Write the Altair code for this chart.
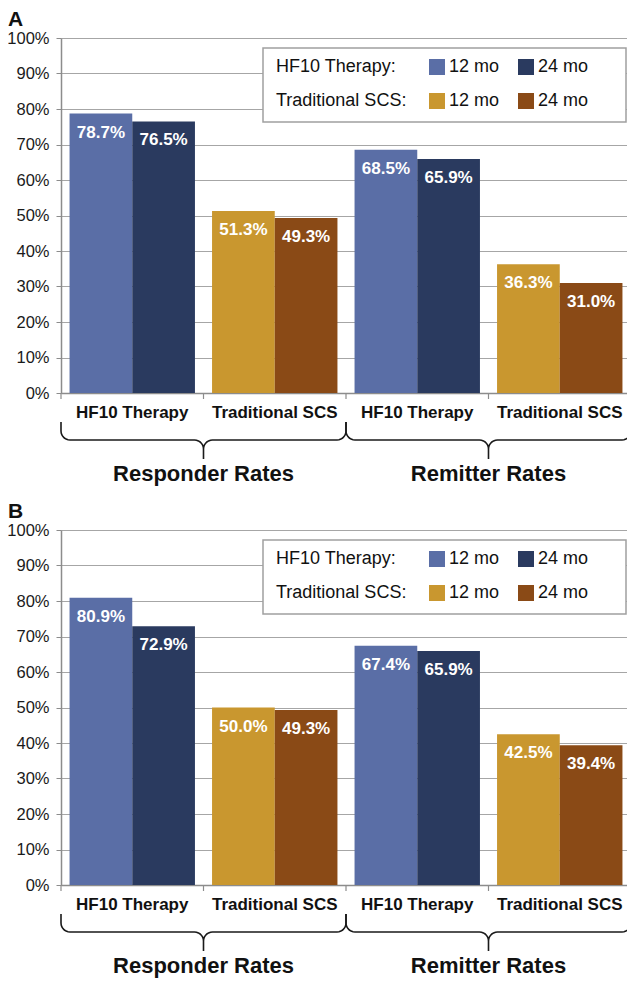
import altair as alt
import pandas as pd
import numpy as np

# ---------------- data ----------------
groups = ["Responder|HF10 Therapy", "Responder|Traditional SCS",
          "Remitter|HF10 Therapy", "Remitter|Traditional SCS"]
group_therapy = ["HF10", "SCS", "HF10", "SCS"]
periods = ["12 mo", "24 mo"]
panel_a_12 = [78.7, 51.3, 68.5, 36.3]
panel_a_24 = [76.5, 49.3, 65.9, 31.0]
panel_b_12 = [80.9, 50.0, 67.4, 42.5]
panel_b_24 = [72.9, 49.3, 65.9, 39.4]
series = ["HF10 12 mo", "HF10 24 mo", "SCS 12 mo", "SCS 24 mo"]
series_colors = ["#5A6EA6", "#2A3A5F", "#C9972F", "#8A4A16"]
y_ticks = list(range(0, 101, 10))
span_titles = ["Responder Rates", "Remitter Rates"]
span_ranges = [(0, 2), (2, 4)]
group_edges = [0, 1, 2, 3, 4]
legend_rows = ["HF10 Therapy:", "Traditional SCS:"]
legend_row_therapy = ["HF10", "SCS"]

# ---------------- layout ----------------
W, H = 570, 355
PANEL_OFFSET = 492
FONT = "Liberation Sans"
STEP = W / 4.0
PXY = H / 100.0

color_scale = alt.Scale(domain=series, range=series_colors)


def brace_df():
    top, mid, tip, r = 29, 47, 66, 9
    rows = []

    def arc(cx, cy, t0, t1, n=8):
        return [(cx + r * np.cos(t), cy + r * np.sin(t)) for t in np.linspace(t0, t1, n)]

    for k, (a, b) in enumerate(span_ranges):
        A, B = a * STEP, b * STEP
        M = (A + B) / 2
        pts = [(A, top)]
        pts += arc(A + r, mid - r, np.pi, np.pi / 2)
        pts += arc(M - r, mid + r, -np.pi / 2, 0)
        pts += [(M, tip), (M, mid + r)]
        pts += arc(M + r, mid + r, np.pi, 1.5 * np.pi)
        pts += arc(B - r, mid - r, np.pi / 2, 0)
        pts += [(B, top)]
        for i, (px, py) in enumerate(pts):
            rows.append({"brace": k, "i": i, "bx": px / STEP, "by": -py / PXY})
    return pd.DataFrame(rows)


def panel(letter, v12, v24):
    rows = []
    for gi, g in enumerate(groups):
        for p, v in zip(periods, [v12[gi], v24[gi]]):
            rows.append({"group": g, "period": p, "value": v,
                         "series": f"{group_therapy[gi]} {p}",
                         "label": f"{v:.1f}%"})
    df = pd.DataFrame(rows)

    x_enc = alt.X("group:N", sort=groups,
                  scale=alt.Scale(paddingInner=0.12, paddingOuter=0.06),
                  axis=alt.Axis(title=None, labelExpr="split(datum.label, '|')[1]",
                                labelFontSize=17, labelFontWeight="bold", labelColor="#111111",
                                labelFont=FONT, labelAngle=0, labelPadding=11,
                                ticks=False, domainColor="#8C8C8C", domainWidth=1.5, grid=False))
    y_enc = alt.Y("value:Q", scale=alt.Scale(domain=[0, 100], nice=False),
                  axis=alt.Axis(title=None, values=y_ticks, labelExpr="datum.value + '%'",
                                labelFontSize=16.5, labelFont=FONT, labelColor="#1A1A1A",
                                labelPadding=7, tickSize=5, tickColor="#8C8C8C",
                                domainColor="#8C8C8C", domainWidth=1.5,
                                grid=True, gridColor="#A6A6A6", gridWidth=1))
    xo = alt.XOffset("period:N", sort=periods)

    bars = alt.Chart(df).mark_bar().encode(
        x=x_enc, xOffset=xo, y=y_enc,
        color=alt.Color("series:N", scale=color_scale, legend=None))
    labels = alt.Chart(df).mark_text(color="white", fontWeight="bold", fontSize=17,
                                     font=FONT, baseline="middle", dy=19).encode(
        x=x_enc, xOffset=xo, y=y_enc, text="label:N")
    inner = alt.layer(bars, labels)

    # group-boundary ticks, braces and span titles
    bx = alt.X("bx:Q", scale=alt.Scale(domain=[0, 4], nice=False, zero=False), axis=None)
    by = alt.Y("by:Q", scale=alt.Scale(domain=[0, 100], nice=False), axis=None)
    tick_df = pd.DataFrame({"bx": group_edges, "by": [0.0] * len(group_edges),
                            "by2": [-6 / PXY] * len(group_edges)})
    ticks = alt.Chart(tick_df).mark_rule(color="#8C8C8C", strokeWidth=1.2, clip=False).encode(
        x=bx, y=by, y2="by2:Q")
    braces = alt.Chart(brace_df()).mark_line(color="#1A1A1A", strokeWidth=1.6, clip=False).encode(
        x=bx, y=by, order="i:Q", detail="brace:N")
    tdf = pd.DataFrame({"title": span_titles,
                        "bx": [(a + b) / 2 for a, b in span_ranges],
                        "by": [-81 / PXY] * len(span_titles)})
    titles = alt.Chart(tdf).mark_text(fontSize=22, fontWeight="bold", font=FONT,
                                      color="#111111", baseline="middle").encode(
        x=bx, y=by, text="title:N")
    deco = alt.layer(ticks, braces, titles)

    one = pd.DataFrame({"t": [letter]})
    letter_mark = alt.Chart(one).mark_text(fontSize=21, fontWeight="bold", font=FONT,
                                           align="left", baseline="middle", color="#111111").encode(
        x=alt.value(-53), y=alt.value(-18), text="t:N")

    box = alt.Chart(one).mark_rect(fill="white", stroke="#A0A0A0", strokeWidth=1.5).encode(
        x=alt.value(202), x2=alt.value(565), y=alt.value(10), y2=alt.value(84))

    row_y = [29, 63]
    col_x = [376, 465]
    ldf = pd.DataFrame([{"series": f"{t} {p}", "lab": p, "lx": col_x[j], "ly": row_y[i]}
                        for i, t in enumerate(legend_row_therapy)
                        for j, p in enumerate(periods)])
    swatches = alt.Chart(ldf).mark_square(size=256, opacity=1).encode(
        x=alt.X("lx:Q", scale=None), y=alt.Y("ly:Q", scale=None),
        color=alt.Color("series:N", scale=color_scale, legend=None))
    sw_labels = alt.Chart(ldf).mark_text(fontSize=18, font=FONT, align="left",
                                         baseline="middle", color="#111111", dx=12).encode(
        x=alt.X("lx:Q", scale=None), y=alt.Y("ly:Q", scale=None), text="lab:N")
    rdf = pd.DataFrame({"row": legend_rows, "ly": row_y})
    row_labels = alt.Chart(rdf).mark_text(fontSize=18, font=FONT, align="left",
                                          baseline="middle", color="#111111").encode(
        x=alt.value(215), y=alt.Y("ly:Q", scale=None), text="row:N")
    legend = alt.layer(box, swatches, sw_labels, row_labels)

    return alt.layer(inner, deco, legend, letter_mark).resolve_scale(
        x="independent", y="independent", xOffset="independent"
    ).properties(width=W, height=H)


chart = alt.vconcat(
    panel("A", panel_a_12, panel_a_24),
    panel("B", panel_b_12, panel_b_24),
    spacing=PANEL_OFFSET - H,
    bounds="flush",
).properties(padding={"left": -2, "top": 0, "right": -8, "bottom": 0}, background="white"
).configure_view(stroke=None).configure(font=FONT)

chart.save("out.html", embed_options={"renderer": "svg", "actions": False})
